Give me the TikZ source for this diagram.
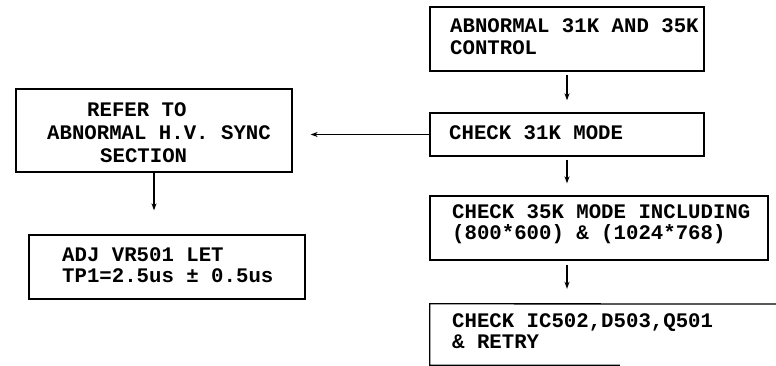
\documentclass[tikz,border=0pt]{standalone}
\usepackage{fontspec}
\setmonofont{Liberation Mono}
\usetikzlibrary{arrows.meta}
\tikzset{
  box/.style={draw, line width=1.3pt, rectangle, inner sep=0pt},
  txt/.style={anchor=west, inner sep=0pt, align=left, font=\ttfamily\bfseries\fontsize{20.7}{21.5}\selectfont},
  conn/.style={line width=1.2pt, -{Stealth[length=7pt,width=5pt]}},
}
\begin{document}
\begin{tikzpicture}[x=1pt,y=-1pt]
\useasboundingbox (0,0) rectangle (776,366);
% right column
\node[box, minimum width=274pt, minimum height=64pt] (b1) at (567,39) {};
\node[txt] (t1) at (450,36.5) {ABNORMAL 31K AND 35K\\CONTROL};
\node[box, minimum width=274pt, minimum height=43pt] (b2) at (567,134.5) {};
\node[txt] (t2) at (449,133) {CHECK 31K MODE};
\node[box, minimum width=338pt, minimum height=64pt] (b3) at (599,228) {};
\node[txt] (t3) at (452,224) {CHECK 35K MODE INCLUDING\\(800*600) \& (1024*768)};
\node[inner sep=0pt, minimum width=346pt, minimum height=61pt] (b4) at (603,334.5) {};
\draw[line width=1.3pt] (776,304) -- (b4.north west) -- (b4.south west) -- ++(190,0);
\node[txt] (t4) at (452,331) {CHECK IC502,D503,Q501\\\& RETRY};
% left column
\node[box, minimum width=276pt, minimum height=83pt] (lb) at (154,130.5) {};
\node[txt, font=\ttfamily\bfseries\fontsize{20.7}{23}\selectfont] (tl) at (47,133) {\hspace*{40pt}REFER TO\\ABNORMAL H.V. SYNC\\\hspace*{53pt}SECTION};
\node[box, minimum width=276pt, minimum height=64pt] (b5) at (167,267) {};
\node[txt] (t5) at (62,265) {ADJ VR501 LET\\TP1=2.5us \char"00B1{} 0.5us};
% connectors
\draw[conn, shorten <=3pt, shorten >=12pt] (b1.south) -- (b2.north);
\draw[conn, shorten <=3pt, shorten >=12pt] (b2.south) -- (b2.south |- b3.north);
\draw[conn, shorten <=4pt, shorten >=15pt] (b2.south |- b3.south) -- (b2.south |- b4.north);
\draw[conn, shorten >=18pt] (b2.west) -- (b2.west -| lb.east);
\draw[conn, shorten >=24pt] (lb.south) -- (lb.south |- b5.north);
\end{tikzpicture}
\end{document}
